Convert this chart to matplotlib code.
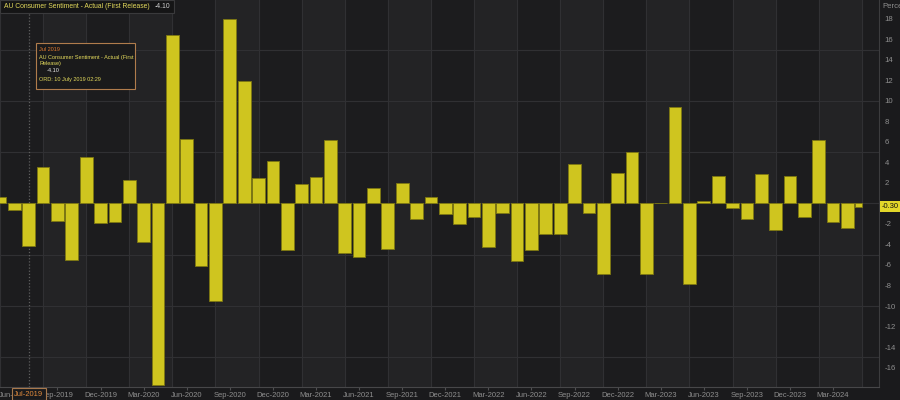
import matplotlib.pyplot as plt
from matplotlib.patches import Rectangle
import pandas as pd

# Monthly change, AU consumer sentiment (first release), May 2019 - May 2024
months = pd.period_range("2019-05", "2024-05", freq="M")
values = [
    0.6, -0.6, -4.1, 3.6, -1.7, -5.5, 4.5, -1.9,          # May19 - Dec19
    -1.8, 2.3, -3.8, -17.7, 16.4, 6.3, -6.1, -9.5,        # Jan20 - Aug20
    18.0, 11.9, 2.5, 4.1,                                 # Sep20 - Dec20
    -4.5, 1.9, 2.6, 6.2, -4.8, -5.2, 1.5, -4.4,           # Jan21 - Aug21
    2.0, -1.5, 0.6, -1.0,                                 # Sep21 - Dec21
    -2.0, -1.3, -4.2, -0.9, -5.6, -4.5, -3.0, -3.0,       # Jan22 - Aug22
    3.9, -0.9, -6.9, 3.0,                                 # Sep22 - Dec22
    5.0, -6.9, 0.0, 9.4, -7.9, 0.2, 2.7, -0.4,            # Jan23 - Aug23
    -1.5, 2.9, -2.6, 2.7,                                 # Sep23 - Dec23
    -1.3, 6.2, -1.8, -2.4, -0.3,                          # Jan24 - May24
]

series_name = "AU Consumer Sentiment - Actual (First Release)"
hover_month = "Jul 2019"
hover_value = "-4.10"
hover_time = "ORD: 10 July 2019 02:29"
last_value = values[-1]

x = list(range(len(months)))
tick_pos = [i for i, p in enumerate(months) if p.month in (3, 6, 9, 12)]
tick_labels = [months[i].strftime("%b-%Y") for i in tick_pos]
hover_idx = list(months.strftime("%b %Y")).index(hover_month)

BG_DARK = "#1c1c1e"
BG_LIGHT = "#232325"
GRID = "#303033"
BAR = "#cfc51f"
BAR_EDGE = "#7d7712"
TXT = "#8e8e8e"

plt.rcParams["font.family"] = ["Liberation Sans", "DejaVu Sans"]

fig = plt.figure(figsize=(9, 4), dpi=100, facecolor="#1a1a1c")
ax = fig.add_axes([0, 0.0333, 0.9767, 0.9667])
ax.set_facecolor(BG_DARK)
ax.set_xlim(0, 61.2)
ax.set_ylim(-17.87, 19.85)

# alternating quarter bands and grid
for k in range(0, 21):
    if k % 2 == 1:
        ax.axvspan(3 * k, 3 * k + 3, color=BG_LIGHT, zorder=0, lw=0)
    ax.axvline(3 * k, color=GRID, lw=0.8, zorder=0.5)
for v in range(-15, 20, 5):
    ax.axhline(v, color=GRID, lw=0.8, zorder=0.5)

ax.axvline(hover_idx, color="#5e5e5e", lw=0.9, ls=(0, (1, 1.5)), zorder=1)

bw = 0.885
ax.bar(x[:-1], values[:-1], width=bw, color=BAR, edgecolor=BAR_EDGE, lw=0.6, zorder=2)
ax.bar(x[-1] - bw / 2, values[-1], width=bw / 2, align="edge",
       color=BAR, edgecolor=BAR_EDGE, lw=0.6, zorder=2)

for s in ("top", "left"):
    ax.spines[s].set_visible(False)
ax.spines["bottom"].set_color("#474749")
ax.spines["right"].set_color("#3c3c3e")

ax.yaxis.tick_right()
ax.set_yticks(range(-16, 20, 2))
ax.set_yticklabels([str(v) if v != 0 else "" for v in range(-16, 20, 2)])
ax.tick_params(axis="y", length=0, pad=4, labelsize=5.6, labelcolor=TXT)
ax.set_xticks(tick_pos)
ax.set_xticklabels(tick_labels)
ax.tick_params(axis="x", length=2.5, color="#505052", pad=1, labelsize=5.5, labelcolor=TXT)

# last value marker on the right axis
ax.annotate(f"{last_value:.2f}", xy=(1, last_value), xycoords=("axes fraction", "data"),
            xytext=(3, 0), textcoords="offset pixels", va="center", ha="left",
            fontsize=5.4, color="#111111",
            bbox=dict(boxstyle="square,pad=0.25", fc="#e2d72a", ec="none"),
            annotation_clip=False, zorder=6)

# highlighted month on x axis
ax.annotate(hover_month.replace(" ", "-"), xy=(hover_idx, 0), xycoords=("data", "axes fraction"),
            xytext=(0, -7.5), textcoords="offset pixels", va="center", ha="center",
            fontsize=5.5, color="#e08a3c",
            bbox=dict(boxstyle="square,pad=0.3", fc="#1a1a1c", ec="#a8784c", lw=0.8),
            annotation_clip=False, zorder=6)

fig.text(882 / 900, 1 - 6 / 400, "Percent", color=TXT, fontsize=5.6, va="center", ha="left")

# title box
fig.add_artist(Rectangle((0, 1 - 13 / 400), 174 / 900, 13 / 400, transform=fig.transFigure,
                         fc="#151516", ec="#3a3a3c", lw=0.8, zorder=5))
title = fig.text(4 / 900, 1 - 6.5 / 400, series_name, color="#e4da5c", fontsize=4.85,
                 va="center", ha="left", zorder=6)
fig.text(155 / 900, 1 - 6.5 / 400, hover_value, color="#d0d0d0", fontsize=4.85,
         va="center", ha="left", zorder=6)

# hover tooltip
fig.add_artist(Rectangle((36 / 900, 1 - 89 / 400), 99 / 900, 46 / 400, transform=fig.transFigure,
                         fc="#1a1a1b", ec="#b07c4c", lw=0.8, zorder=5))
tx = 39 / 900
fs = 3.95
fig.text(tx, 1 - 49.5 / 400, hover_month, color="#e07a30", fontsize=fs, va="center", zorder=6)
fig.text(tx, 1 - 57 / 400, "AU Consumer Sentiment - Actual (First", color="#e4da5c",
         fontsize=fs, va="center", zorder=6)
fig.text(tx, 1 - 63.5 / 400, "Release)", color="#e4da5c", fontsize=fs, va="center", zorder=6)
fig.text(47 / 900, 1 - 70 / 400, hover_value, color="#e8e8e8", fontsize=fs, va="center", zorder=6)
fig.text(tx, 1 - 80 / 400, hover_time, color="#e4da5c", fontsize=fs, va="center", zorder=6)

fig.savefig("out.png", dpi=100, facecolor=fig.get_facecolor())
